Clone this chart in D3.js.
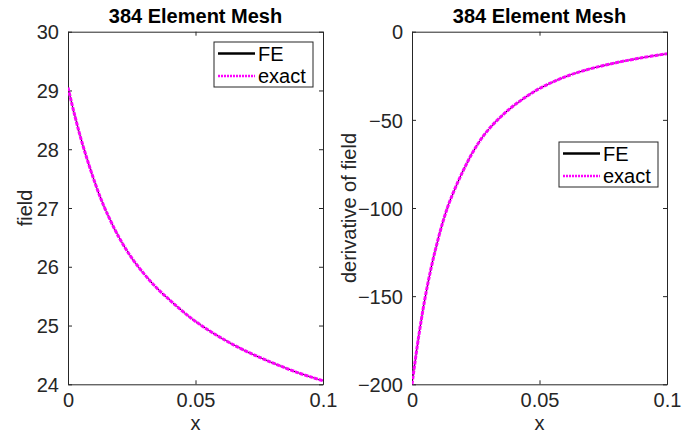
<!DOCTYPE html>
<html>
<head>
<meta charset="utf-8">
<script src="https://cdn.jsdelivr.net/npm/d3@7"></script>
<style>
  html, body { margin: 0; padding: 0; background: #fff; }
  svg { display: block; font-family: "Liberation Sans", Arial, Helvetica, sans-serif; }
</style>
</head>
<body>
<svg id="chart" width="682" height="437"></svg>
<script>
// ---- data ----
const xValues = [0, 0.0025, 0.005, 0.0075, 0.01, 0.0125, 0.015, 0.02, 0.025, 0.03, 0.035, 0.04, 0.045, 0.05, 0.06, 0.07, 0.08, 0.09, 0.1];
const fieldExact = [29.05, 28.60, 28.19, 27.83, 27.50, 27.20, 26.94, 26.50, 26.15, 25.87, 25.63, 25.43, 25.24, 25.07, 24.79, 24.56, 24.37, 24.20, 24.06];
const fieldFE    = [29.05, 28.60, 28.19, 27.83, 27.50, 27.20, 26.94, 26.50, 26.15, 25.87, 25.63, 25.43, 25.24, 25.07, 24.79, 24.56, 24.37, 24.20, 24.06];
const derivExact = [-200, -174, -152, -134, -119, -106, -95.5, -79, -65.5, -55.5, -48, -41.8, -36.7, -32.2, -25.6, -21.0, -17.6, -14.8, -12.5];
const derivFE    = [-200, -174, -152, -134, -119, -106, -95.5, -79, -65.5, -55.5, -48, -41.8, -36.7, -32.2, -25.6, -21.0, -17.6, -14.8, -12.5];
const xTicks = [0, 0.05, 0.1];
const xTickLabels = ["0", "0.05", "0.1"];
const fieldTicks = [24, 25, 26, 27, 28, 29, 30];
const derivTicks = [-200, -150, -100, -50, 0];
const titles = ["384 Element Mesh", "384 Element Mesh"];
const yLabels = ["field", "derivative of field"];
const xLabel = "x";
const legendNames = ["FE", "exact"];

const svg = d3.select("#chart");
const axisColor = "#262626";
const fontFam = "'Liberation Sans', Arial, sans-serif";

const panels = [
  { left: 68, right: 323, top: 31.7, bottom: 384.3, yDomain: [24, 30], yTicks: fieldTicks,
    fe: fieldFE, exact: fieldExact, title: titles[0], ylabel: yLabels[0], ylabelX: 25,
    legend: { x: 214, y: 42, w: 99, h: 45 } },
  { left: 412, right: 667, top: 31.7, bottom: 384.3, yDomain: [-200, 0], yTicks: derivTicks,
    fe: derivFE, exact: derivExact, title: titles[1], ylabel: yLabels[1], ylabelX: 349,
    legend: { x: 559, y: 142, w: 99, h: 45 } }
];

panels.forEach((p, pi) => {
  const x = d3.scaleLinear().domain([0, 0.1]).range([p.left, p.right]);
  const y = d3.scaleLinear().domain(p.yDomain).range([p.bottom, p.top]);
  const g = svg.append("g");

  const clipId = "clip" + pi;
  svg.append("clipPath").attr("id", clipId).append("rect")
    .attr("x", p.left).attr("y", p.top - 2).attr("width", p.right - p.left).attr("height", p.bottom - p.top + 4);

  const fmtX = d => xTickLabels[xTicks.indexOf(d)];
  const bottomAxis = d3.axisBottom(x).tickValues(xTicks).tickFormat(fmtX).tickSizeInner(-4).tickSizeOuter(0).tickPadding(10);
  const topAxis = d3.axisTop(x).tickValues(xTicks).tickFormat("").tickSizeInner(-4).tickSizeOuter(0);
  const leftAxis = d3.axisLeft(y).tickValues(p.yTicks).tickFormat(d3.format("d")).tickSizeInner(-4).tickSizeOuter(0).tickPadding(9);
  const rightAxis = d3.axisRight(y).tickValues(p.yTicks).tickFormat("").tickSizeInner(-4).tickSizeOuter(0);

  const styleAxis = sel => {
    sel.selectAll("path").attr("stroke", axisColor).attr("stroke-width", 1);
    sel.selectAll("line").attr("stroke", axisColor).attr("stroke-width", 1);
    sel.selectAll("text").attr("fill", axisColor).style("font-size", "20px").style("font-family", fontFam);
  };
  g.append("g").attr("transform", `translate(0,${p.bottom})`).call(bottomAxis).call(styleAxis)
    .selectAll(".tick text").attr("dy", "0.71em").attr("y", 9);
  g.append("g").attr("transform", `translate(0,${p.top})`).call(topAxis).call(styleAxis);
  g.append("g").attr("transform", `translate(${p.left},0)`).call(leftAxis).call(styleAxis)
    .selectAll(".tick text").attr("dy", "0.36em");
  g.append("g").attr("transform", `translate(${p.right},0)`).call(rightAxis).call(styleAxis);

  // lines
  const line = d3.line().x((d, i) => x(xValues[i])).y(d => y(d)).curve(d3.curveCatmullRom.alpha(0.5));
  const lg = g.append("g").attr("clip-path", `url(#${clipId})`);
  lg.append("path").datum(p.fe).attr("d", line).attr("fill", "none").attr("stroke", "#000").attr("stroke-width", 1);
  lg.append("path").datum(p.exact).attr("d", line).attr("fill", "none").attr("stroke", "#ff00ff").attr("stroke-width", 3).attr("stroke-dasharray", "4,1");

  // title
  g.append("text").attr("x", (p.left + p.right) / 2).attr("y", 23).attr("text-anchor", "middle")
    .style("font-size", "20px").style("font-weight", "bold").attr("fill", "#000").text(p.title);

  // x label
  g.append("text").attr("x", (p.left + p.right) / 2).attr("y", 430).attr("text-anchor", "middle")
    .style("font-size", "20px").attr("fill", axisColor).text(xLabel);

  // y label
  g.append("text").attr("transform", `translate(${p.ylabelX},${(p.top + p.bottom) / 2}) rotate(-90)`)
    .attr("text-anchor", "middle").attr("dy", "0.35em")
    .style("font-size", "20px").attr("fill", axisColor).text(p.ylabel);

  // legend
  const L = p.legend;
  const leg = g.append("g");
  leg.append("rect").attr("x", L.x).attr("y", L.y).attr("width", L.w).attr("height", L.h)
    .attr("fill", "#fff").attr("stroke", axisColor).attr("stroke-width", 1);
  const entries = [
    { name: legendNames[0], stroke: "#000", width: 2.5, dash: null },
    { name: legendNames[1], stroke: "#ff00ff", width: 2.5, dash: "2,1" }
  ];
  entries.forEach((e, i) => {
    const cy = L.y + 11.5 + i * 22.5;
    leg.append("line").attr("x1", L.x + 4).attr("x2", L.x + 41).attr("y1", cy).attr("y2", cy)
      .attr("stroke", e.stroke).attr("stroke-width", e.width).attr("stroke-dasharray", e.dash);
    leg.append("text").attr("x", L.x + 44).attr("y", cy).attr("dy", "0.36em")
      .style("font-size", "20px").attr("fill", "#000").text(e.name);
  });
});
</script>
</body>
</html>
